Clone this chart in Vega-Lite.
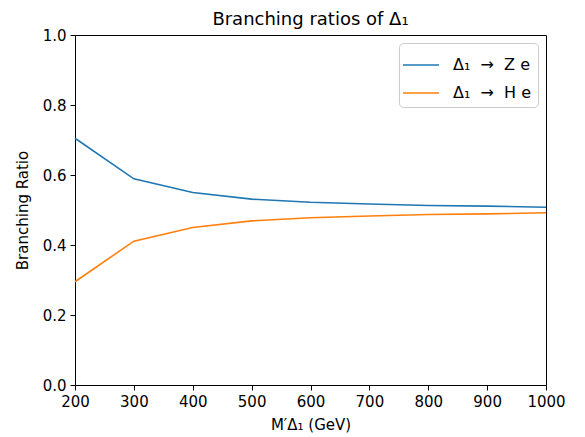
{
  "$schema": "https://vega.github.io/schema/vega-lite/v6.json",
  "autosize": {"type": "none"},
  "width": 471,
  "height": 350,
  "padding": {"left": 75, "top": 35, "right": 39, "bottom": 52},
  "title": {"text": "Branching ratios of Δ₁", "font": "DejaVu Sans", "fontSize": 18, "fontWeight": "normal", "color": "black", "offset": -1},
  "config": {
    "font": "DejaVu Sans",
    "view": {"stroke": "black", "strokeWidth": 1},
    "axis": {"grid": false, "domain": false, "tickColor": "black", "tickSize": 5, "labelColor": "black", "labelFontSize": 15, "titleFontSize": 15, "titleFontWeight": "normal", "titleColor": "black", "labelPadding": 4, "labelFlush": false}
  },
  "data": {"values": [
    {"mass": 200, "ratio": 0.705, "channel": "Δ₁\u00a0\u00a0→\u00a0\u00a0Z e"},
    {"mass": 300, "ratio": 0.589, "channel": "Δ₁\u00a0\u00a0→\u00a0\u00a0Z e"},
    {"mass": 400, "ratio": 0.550, "channel": "Δ₁\u00a0\u00a0→\u00a0\u00a0Z e"},
    {"mass": 500, "ratio": 0.531, "channel": "Δ₁\u00a0\u00a0→\u00a0\u00a0Z e"},
    {"mass": 600, "ratio": 0.522, "channel": "Δ₁\u00a0\u00a0→\u00a0\u00a0Z e"},
    {"mass": 700, "ratio": 0.517, "channel": "Δ₁\u00a0\u00a0→\u00a0\u00a0Z e"},
    {"mass": 800, "ratio": 0.513, "channel": "Δ₁\u00a0\u00a0→\u00a0\u00a0Z e"},
    {"mass": 900, "ratio": 0.511, "channel": "Δ₁\u00a0\u00a0→\u00a0\u00a0Z e"},
    {"mass": 1000, "ratio": 0.508, "channel": "Δ₁\u00a0\u00a0→\u00a0\u00a0Z e"},
    {"mass": 200, "ratio": 0.295, "channel": "Δ₁\u00a0\u00a0→\u00a0\u00a0H e"},
    {"mass": 300, "ratio": 0.411, "channel": "Δ₁\u00a0\u00a0→\u00a0\u00a0H e"},
    {"mass": 400, "ratio": 0.450, "channel": "Δ₁\u00a0\u00a0→\u00a0\u00a0H e"},
    {"mass": 500, "ratio": 0.469, "channel": "Δ₁\u00a0\u00a0→\u00a0\u00a0H e"},
    {"mass": 600, "ratio": 0.478, "channel": "Δ₁\u00a0\u00a0→\u00a0\u00a0H e"},
    {"mass": 700, "ratio": 0.483, "channel": "Δ₁\u00a0\u00a0→\u00a0\u00a0H e"},
    {"mass": 800, "ratio": 0.487, "channel": "Δ₁\u00a0\u00a0→\u00a0\u00a0H e"},
    {"mass": 900, "ratio": 0.489, "channel": "Δ₁\u00a0\u00a0→\u00a0\u00a0H e"},
    {"mass": 1000, "ratio": 0.492, "channel": "Δ₁\u00a0\u00a0→\u00a0\u00a0H e"}
  ]},
  "mark": {"type": "line", "strokeWidth": 1.6},
  "encoding": {
    "x": {"field": "mass", "type": "quantitative", "scale": {"domain": [200, 1000], "nice": false, "zero": false},
          "axis": {"values": [200, 300, 400, 500, 600, 700, 800, 900, 1000], "format": "d", "title": "M′Δ₁ (GeV)", "titlePadding": 8}},
    "y": {"field": "ratio", "type": "quantitative", "scale": {"domain": [0, 1], "nice": false},
          "axis": {"values": [0, 0.2, 0.4, 0.6, 0.8, 1.0], "format": ".1f", "title": "Branching Ratio", "titlePadding": 12}},
    "color": {"field": "channel", "type": "nominal", "sort": ["Δ₁\u00a0\u00a0→\u00a0\u00a0Z e", "Δ₁\u00a0\u00a0→\u00a0\u00a0H e"],
              "scale": {"domain": ["Δ₁\u00a0\u00a0→\u00a0\u00a0Z e", "Δ₁\u00a0\u00a0→\u00a0\u00a0H e"], "range": ["#1f77b4", "#ff7f0e"]},
              "legend": {"title": null, "orient": "top-right", "offset": 8, "symbolType": "M-1.2,0H1.2", "symbolSize": 900, "symbolStrokeWidth": 1.6,
                         "labelFontSize": 16, "labelColor": "black", "fillColor": "white", "strokeColor": "#cccccc", "cornerRadius": 4, "padding": 6, "rowPadding": 4, "labelOffset": 16}}
  }
}
